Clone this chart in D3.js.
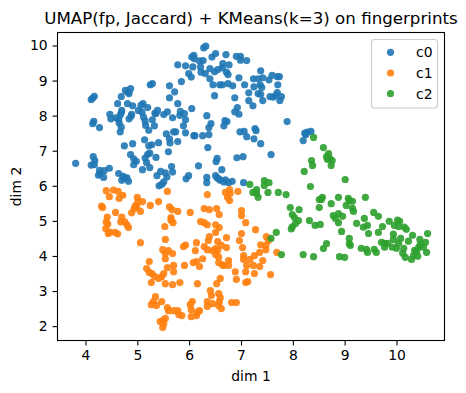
<!DOCTYPE html>
<html>
<head>
<meta charset="utf-8">
<script src="https://cdn.jsdelivr.net/npm/d3@7"></script>
<style>
html, body { margin: 0; padding: 0; background: #fff; }
svg { display: block; }
text { font-family: "DejaVu Sans", sans-serif; fill: #000; }
</style>
</head>
<body>
<div id="graph"></div>
<script>
const titleText = "UMAP(fp, Jaccard) + KMeans(k=3) on fingerprints";
const xLabel = "dim 1", yLabel = "dim 2";
const xTicks = [4, 5, 6, 7, 8, 9, 10];
const yTicks = [2, 3, 4, 5, 6, 7, 8, 9, 10];
const clusterNames = ["c0", "c1", "c2"];
const clusterColors = ["#1f77b4", "#ff7f0e", "#2ca02c"];

const c0 = [[3.81,6.64],[4.11,8.46],[4.14,8.50],[4.17,8.55],[4.14,7.77],[4.16,7.84],[4.27,7.66],[4.47,8.04],[4.49,7.91],[4.62,8.34],[4.69,8.54],[4.77,8.72],[4.82,8.67],[4.84,8.63],[4.87,8.77],[4.81,8.34],[4.91,8.28],[4.59,7.94],[4.64,7.88],[4.65,7.79],[4.69,7.67],[4.67,7.54],[4.70,8.15],[4.69,8.08],[4.67,8.01],[4.84,7.91],[4.88,7.98],[4.89,8.04],[5.02,8.15],[5.11,8.34],[5.07,8.29],[5.20,8.23],[5.09,8.10],[5.12,7.96],[5.15,7.85],[5.16,7.72],[5.22,7.58],[5.29,7.88],[5.33,7.71],[5.25,8.88],[5.29,8.91],[5.62,8.85],[5.72,8.68],[5.62,8.51],[5.78,8.34],[5.85,8.97],[5.78,9.45],[5.93,9.42],[6.07,9.39],[6.05,9.67],[6.09,9.72],[5.99,9.20],[6.04,9.10],[5.34,8.07],[5.39,8.15],[5.36,8.06],[5.51,8.03],[5.58,8.11],[5.68,7.94],[5.83,8.12],[5.82,8.01],[5.91,8.06],[5.93,7.88],[5.89,7.71],[6.05,8.20],[5.56,7.48],[5.70,7.54],[5.74,7.54],[5.93,7.51],[6.09,7.43],[5.62,7.34],[5.63,7.22],[5.78,7.26],[5.60,6.97],[5.41,7.23],[5.28,7.17],[5.22,7.14],[5.14,7.31],[4.91,7.20],[4.75,7.14],[4.87,6.89],[4.93,6.77],[4.98,6.70],[4.93,6.60],[5.15,6.79],[5.20,6.90],[5.24,6.93],[5.36,6.81],[5.18,6.66],[5.24,6.52],[5.10,6.46],[4.15,6.83],[4.18,6.72],[4.11,6.59],[4.17,6.60],[4.27,6.44],[4.28,6.35],[4.36,6.43],[4.46,6.50],[4.25,6.30],[4.35,6.24],[4.64,6.35],[4.73,6.27],[4.80,6.23],[5.38,6.29],[5.45,6.41],[5.54,6.37],[5.57,6.25],[5.66,6.55],[5.68,6.39],[5.99,6.29],[5.94,6.20],
[6.28,9.93],[6.32,9.98],[6.10,9.62],[6.20,9.56],[6.27,9.57],[6.22,9.39],[6.23,9.24],[6.40,9.34],[6.31,9.20],[6.40,9.05],[6.44,9.67],[6.51,9.77],[6.71,9.74],[6.91,9.69],[6.99,9.69],[6.99,9.58],[7.11,9.57],[6.77,9.45],[6.65,9.48],[6.64,9.36],[6.55,9.31],[6.49,9.25],[6.72,9.24],[6.75,9.17],[6.96,9.08],[6.46,8.88],[6.59,8.88],[6.64,8.88],[6.75,8.91],[6.84,8.85],[7.07,8.88],[6.49,8.57],[6.88,8.51],[7.15,8.65],[7.15,8.43],[7.23,8.28],[7.42,8.43],[7.24,9.05],[7.33,9.05],[7.38,9.28],[7.42,9.08],[7.60,9.15],[7.54,9.02],[7.70,9.11],[7.74,9.11],[7.71,8.88],[7.25,8.82],[7.37,8.88],[7.40,8.80],[7.33,8.63],[7.38,8.61],[7.56,8.54],[7.62,8.53],[7.70,8.66],[7.67,8.58],[7.78,8.54],[7.75,8.43],[6.34,8.00],[6.42,7.77],[6.38,7.66],[6.11,7.43],[6.26,7.43],[6.38,7.46],[6.36,7.09],[6.69,7.86],[6.73,7.83],[6.67,7.71],[6.93,8.23],[6.88,8.11],[6.96,8.04],[6.98,7.54],[7.06,7.55],[7.11,7.40],[7.27,7.63],[7.29,7.57],[7.25,7.34],[7.38,7.20],[7.89,7.83],[8.20,7.29],[8.23,7.50],[8.28,7.53],[8.35,7.55],[8.25,7.46],[7.58,6.89],[7.04,6.83],[6.92,6.80],[6.54,6.78],[6.52,6.69],[6.18,6.57],[6.63,6.46],[6.51,6.29],[6.34,6.24],[6.57,6.20],[6.70,6.17],
[6.34,6.09],[6.54,6.23],[6.60,6.16],[6.67,6.11],[6.76,6.09],[6.83,6.13],[7.05,6.09],[4.75,6.23],[4.83,6.13],[4.70,6.16],[5.51,6.11],[5.42,6.00],[5.47,6.04]];

const c1 = [[4.40,5.86],[4.54,5.88],[4.46,5.69],[4.63,5.84],[4.72,5.73],[4.65,5.64],[4.31,5.42],[4.33,5.38],[4.58,5.24],[4.42,5.11],[4.40,4.97],[4.43,4.91],[4.39,4.78],[4.47,4.68],[4.44,4.64],[4.57,4.67],[4.62,4.63],[4.70,5.11],[4.68,4.97],[4.76,4.97],[4.80,4.89],[4.83,4.81],[5.00,5.67],[5.10,5.55],[5.01,5.54],[4.96,5.43],[4.94,5.35],[4.99,5.39],[5.06,5.27],[4.89,5.23],[5.25,5.44],[5.41,5.55],[5.58,5.84],[5.62,5.40],[5.67,5.32],[5.78,5.27],[5.65,5.09],[5.65,5.02],[5.69,4.95],[5.53,4.84],[5.54,4.47],[5.06,4.38],[5.49,4.18],[5.60,4.15],[5.54,4.07],[5.54,3.92],[5.68,4.07],[5.23,3.84],[5.18,3.64],[5.23,3.53],[5.28,3.50],[5.33,3.42],[5.41,3.36],[5.51,3.50],[5.47,3.41],[5.27,3.24],[5.54,3.21],[5.68,3.18],[5.82,3.24],[5.58,3.67],[5.70,3.73],[5.70,3.55],[5.89,4.27],[5.93,4.31],[5.91,3.73],[5.35,2.84],[5.31,2.70],[5.37,2.59],[5.27,2.61],[5.47,2.70],[5.58,2.53],[5.60,2.44],[5.70,2.44],[5.78,2.44],[5.80,2.33],[5.86,2.30],[5.54,2.22],[5.49,2.16],[5.44,2.13],[5.49,1.96],[5.51,2.07],
[6.35,5.75],[6.70,5.81],[6.78,5.89],[6.79,5.78],[6.74,5.67],[6.78,5.58],[6.94,5.84],[6.02,5.24],[6.29,5.35],[6.39,5.32],[6.53,5.35],[6.58,5.18],[7.01,5.29],[7.01,5.15],[7.09,4.95],[7.28,4.75],[7.01,4.64],[6.97,4.44],[7.03,4.24],[6.22,4.98],[6.29,4.95],[6.35,4.89],[6.51,4.89],[6.58,4.81],[6.51,4.67],[6.39,4.55],[6.37,4.44],[6.72,4.52],[6.55,4.41],[6.62,4.30],[6.72,4.24],[6.14,4.38],[6.12,4.15],[6.29,4.27],[6.35,4.18],[6.45,4.15],[6.51,4.21],[6.55,4.15],[6.51,4.04],[6.57,3.97],[6.26,3.92],[6.14,3.84],[6.08,3.81],[6.20,3.70],[6.16,3.21],[6.60,3.36],[6.53,3.21],[6.57,3.81],[6.64,3.75],[6.76,3.87],[6.76,3.73],[6.66,3.73],[6.89,3.55],[6.91,3.33],[7.09,3.24],[7.13,3.27],[7.09,3.55],[7.11,3.73],[7.26,3.50],[7.24,3.73],[7.36,3.70],[7.42,3.87],[7.05,4.01],[7.05,3.90],[7.17,3.90],[7.26,4.01],[7.36,4.10],[7.38,4.32],[7.49,4.55],[7.53,4.44],[7.48,4.30],[7.48,4.18],[7.69,4.10],[7.57,3.47],[6.41,3.01],[6.43,2.87],[6.57,2.93],[6.60,2.81],[6.58,2.70],[6.57,2.59],[6.35,2.70],[6.45,2.64],[6.35,2.56],[6.62,2.50],[6.82,2.67],[6.91,2.67],[6.06,2.70],[6.02,2.61],[6.04,2.47],[6.20,2.44],[6.16,2.39],[6.14,2.30],[6.04,2.27]];

const c2 = [[8.40,7.38],[8.59,7.09],[8.69,6.92],[8.65,6.83],[8.71,6.78],[8.67,6.75],[8.76,6.72],[8.74,6.58],[8.36,6.72],[8.38,6.58],[8.22,6.41],[8.34,5.98],[9.01,6.18],[7.45,6.15],[7.54,6.09],[7.45,6.01],[7.30,5.89],[7.23,5.81],[7.30,5.78],[7.33,5.67],[7.52,5.81],[7.72,5.81],[7.87,5.75],[7.17,6.04],[7.95,5.38],[8.12,5.32],[7.99,5.18],[8.03,5.10],[8.11,5.01],[8.32,5.01],[8.05,4.92],[7.99,4.83],[7.97,4.77],[8.43,4.87],[8.53,4.90],[8.51,5.38],[8.51,5.61],[8.57,5.67],[8.55,5.61],[8.74,5.49],[8.88,5.67],[9.07,5.64],[9.03,5.44],[8.78,5.15],[8.88,5.21],[8.82,5.07],[8.88,4.95],[8.94,4.70],[7.68,4.67],[7.58,4.50],[7.78,4.04],[8.20,4.04],[8.40,3.98],[8.65,4.35],[8.59,4.21],[8.90,3.98],[9.00,3.96],[9.09,4.50],[9.09,4.35],
[9.40,5.67],[9.09,5.58],[9.15,5.56],[9.15,5.36],[9.17,5.27],[8.96,5.13],[9.56,5.24],[9.65,5.13],[9.38,5.07],[9.23,4.93],[9.44,4.87],[9.36,4.82],[9.46,4.64],[9.73,4.84],[9.65,4.67],[9.86,4.99],[10.02,5.02],[10.06,4.99],[9.96,4.87],[10.04,4.84],[10.15,4.82],[10.19,4.76],[10.31,4.59],[9.94,4.62],[10.60,4.64],[10.08,4.50],[9.94,4.47],[10.23,4.42],[10.45,4.47],[10.56,4.39],[9.11,4.30],[9.32,4.22],[9.42,4.19],[9.44,4.10],[9.57,4.19],[9.61,4.10],[9.71,4.39],[9.77,4.36],[9.83,4.36],[9.77,4.25],[9.92,4.25],[10.00,4.22],[10.04,4.36],[10.14,4.22],[10.12,4.08],[10.17,3.96],[10.29,3.90],[10.33,4.02],[10.41,3.99],[10.39,4.13],[10.43,4.25],[10.46,4.33],[10.52,4.25],[10.58,4.10],[10.35,4.16]];

const clusters = [c0, c1, c2];

const width = 466, height = 393;
const left = 57.5, right = 444.5, top_ = 32.5, bottom = 340.5;

const svg = d3.select("#graph").append("svg")
    .attr("width", width)
    .attr("height", height);

const x = d3.scaleLinear().domain([3.46, 10.926]).range([left, right]);
const y = d3.scaleLinear().domain([1.59, 10.37]).range([bottom, top_]);

// points, one group per cluster so later ones sit on top
clusters.forEach(function(pts, i) {
    svg.append("g").selectAll("circle")
        .data(pts)
        .enter()
        .append("circle")
        .attr("cx", d => x(d[0]))
        .attr("cy", d => y(d[1]))
        .attr("r", 3.6)
        .attr("fill", clusterColors[i])
        .attr("fill-opacity", 0.9);
});

// frame
svg.append("rect")
    .attr("x", left).attr("y", top_)
    .attr("width", right - left).attr("height", bottom - top_)
    .attr("fill", "none").attr("stroke", "#000").attr("stroke-width", 1.1);

const xAxis = svg.append("g")
    .attr("transform", "translate(0," + bottom + ")")
    .call(d3.axisBottom(x).tickValues(xTicks).tickFormat(d3.format("d")).tickSize(4.9).tickPadding(4.9));
const yAxis = svg.append("g")
    .attr("transform", "translate(" + left + ",0)")
    .call(d3.axisLeft(y).tickValues(yTicks).tickFormat(d3.format("d")).tickSize(4.9).tickPadding(4.9));

[xAxis, yAxis].forEach(function(a) {
    a.select(".domain").remove();
    a.selectAll("line").attr("stroke", "#000").attr("stroke-width", 1.1);
    a.selectAll("text").attr("font-size", 13.9).attr("font-family", '"DejaVu Sans"');
});

svg.append("text").attr("x", 251).attr("y", 24).attr("text-anchor", "middle")
    .attr("font-size", 16.67).text(titleText);
svg.append("text").attr("x", 251).attr("y", 381).attr("text-anchor", "middle")
    .attr("font-size", 13.9).text(xLabel);
svg.append("text").attr("transform", "translate(20.5,186.5) rotate(-90)").attr("text-anchor", "middle")
    .attr("font-size", 13.9).text(yLabel);

// legend
const legend = svg.append("g");
legend.append("rect")
    .attr("x", 371.5).attr("y", 39.5).attr("width", 66).attr("height", 68.5).attr("rx", 3)
    .attr("fill", "#fff").attr("fill-opacity", 0.8).attr("stroke", "#ccc").attr("stroke-width", 1.1);
clusterNames.forEach(function(name, i) {
    const rowY = 52.3 + i * 20.7;
    legend.append("circle").attr("cx", 390.5).attr("cy", rowY).attr("r", 3.6)
        .attr("fill", clusterColors[i]).attr("fill-opacity", 0.9);
    legend.append("text").attr("x", 416).attr("y", rowY + 5).attr("font-size", 13.9).text(name);
});
</script>
</body>
</html>
